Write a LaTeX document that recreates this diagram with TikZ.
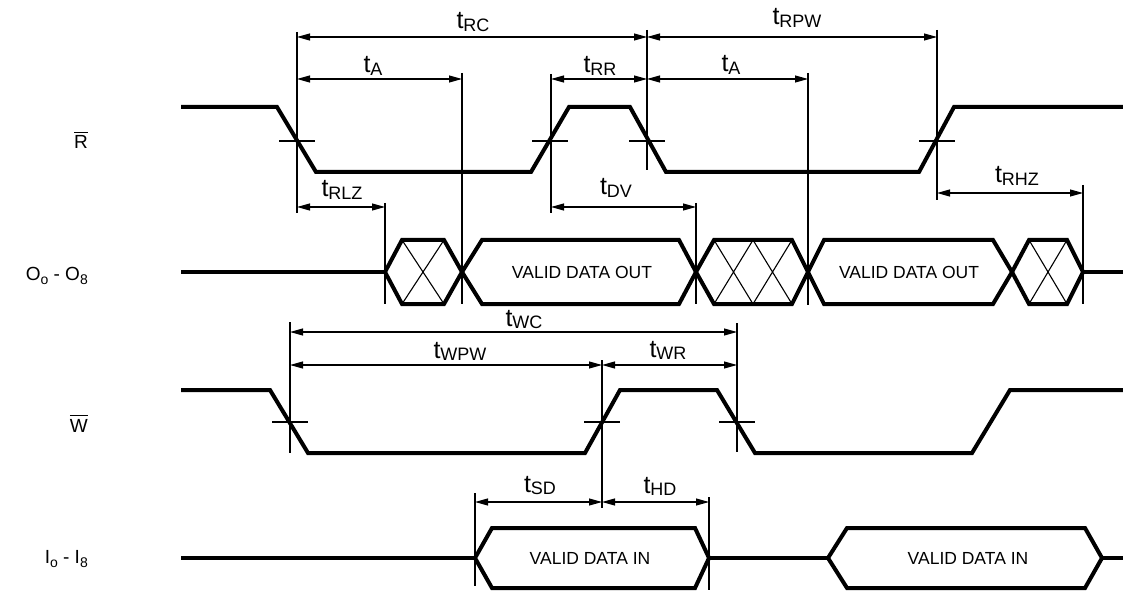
\documentclass[tikz,border=0pt]{standalone}
\usepackage{fontspec}
\setmainfont{Liberation Sans}
\usetikzlibrary{arrows.meta}
\newcommand\tlab[1]{{\fontsize{25}{25}\selectfont t}\raisebox{-2.5pt}{\fontsize{18}{18}\selectfont #1}}
\newcommand\ovr[1]{\vbox{\hrule height 1pt\kern 2.5pt\hbox{#1}}}
\newcommand\sbs[1]{\raisebox{-4pt}{\fontsize{14}{14}\selectfont #1}}
\begin{document}
\begin{tikzpicture}[x=1pt,y=-1pt,
  sig/.style={line width=4pt, line join=miter, line cap=butt},
  thinln/.style={line width=1.1pt},
  dim/.style={line width=1.1pt, {Triangle[length=13pt,width=7pt]}-{Triangle[length=13pt,width=7pt]}},
  lbl/.style={anchor=base, inner sep=0pt},
  dtext/.style={font=\fontsize{17.5}{20}\selectfont, inner sep=0pt},
  rowlbl/.style={anchor=base east, inner sep=0pt, font=\fontsize{19}{22}\selectfont}]
\useasboundingbox (0,0) rectangle (1123,593);

% ---------- row labels ----------
\node[rowlbl] (rR) at (88,149) {\ovr{R}};
\node[rowlbl] (rO) at (88,280) {O\sbs{o} - O\sbs{8}};
\node[rowlbl] (rW) at (88,432) {\ovr{W}};
\node[rowlbl] (rI) at (88,563) {I\sbs{o} - I\sbs{8}};

% ---------- R waveform ----------
\draw[sig] (181,107) -- (277,107) -- (316,172) -- (531,172) -- (569,107) -- (630,107)
  -- (666,172) -- (919,172) -- (954,107) -- (1123,107);

% ---------- O waveform ----------
\draw[sig] (181,272) -- (385,272);
\draw[sig] (385,272) -- (402,240) -- (444,240) -- (462,272) -- (444,304) -- (402,304) -- cycle;
\draw[thinln] (402,240) -- (444,304) (444,240) -- (402,304);
\draw[sig] (462,272) -- (482,240) -- (679,240) -- (696,272) -- (679,304) -- (482,304) -- cycle;
\draw[sig] (696,272) -- (714,240) -- (792,240) -- (808,272) -- (792,304) -- (714,304) -- cycle;
\draw[thinln] (714,240) -- (753,304) (753,240) -- (714,304) (753,240) -- (792,304) (792,240) -- (753,304);
\draw[sig] (808,272) -- (824,240) -- (993,240) -- (1012,272) -- (993,304) -- (824,304) -- cycle;
\draw[sig] (1012,272) -- (1029,240) -- (1067,240) -- (1083,272) -- (1067,304) -- (1029,304) -- cycle;
\draw[thinln] (1029,240) -- (1067,304) (1067,240) -- (1029,304);
\draw[sig] (1083,272) -- (1123,272);
\node[dtext] (vo1) at (582,272) {VALID DATA OUT};
\node[dtext] (vo2) at (909,272) {VALID DATA OUT};

% ---------- W waveform ----------
\draw[sig] (181,390) -- (270,390) -- (308,453) -- (585,453) -- (620,390) -- (717,390)
  -- (755,453) -- (972,453) -- (1010,390) -- (1123,390);

% ---------- I waveform ----------
\draw[sig] (181,558) -- (475,558);
\draw[sig] (475,558) -- (492,528) -- (695,528) -- (709,558) -- (695,588) -- (492,588) -- cycle;
\draw[sig] (709,558) -- (828,558);
\draw[sig] (828,558) -- (847,528) -- (1085,528) -- (1102,558) -- (1085,588) -- (847,588) -- cycle;
\draw[sig] (1102,558) -- (1123,558);
\node[dtext] (vi1) at (590,558) {VALID DATA IN};
\node[dtext] (vi2) at (968,558) {VALID DATA IN};

% ---------- vertical reference lines ----------
\draw[thinln] (297,32) -- (297,213);
\draw[thinln] (462,73) -- (462,304);
\draw[thinln] (551,74) -- (551,213);
\draw[thinln] (647,30) -- (647,170);
\draw[thinln] (808,73) -- (808,305);
\draw[thinln] (937,30) -- (937,200);
\draw[thinln] (1083,185) -- (1083,304);
\draw[thinln] (385,203) -- (385,304);
\draw[thinln] (696,203) -- (696,304);
\draw[thinln] (290,322) -- (290,453);
\draw[thinln] (602,360) -- (602,508);
\draw[thinln] (737,323) -- (737,452);
\draw[thinln] (475,493) -- (475,586);
\draw[thinln] (709,497) -- (709,590);

% ---------- crossing ticks ----------
\foreach \x/\y in {297/141, 550/141, 647/141, 937/141, 290/422, 602/422, 737/422}
  \draw[thinln] (\x-18,\y) -- (\x+18,\y);

% ---------- dimension arrows ----------
\draw[dim] (297,37) -- (647,37);
\draw[dim] (647,37) -- (937,37);
\draw[dim] (297,79) -- (462,79);
\draw[dim] (551,79) -- (647,79);
\draw[dim] (647,79) -- (808,79);
\draw[dim] (297,207) -- (385,207);
\draw[dim] (551,207) -- (696,207);
\draw[dim] (937,193) -- (1083,193);
\draw[dim] (290,332) -- (737,332);
\draw[dim] (290,365) -- (602,365);
\draw[dim] (602,365) -- (737,365);
\draw[dim] (475,502) -- (602,502);
\draw[dim] (602,502) -- (709,502);

% ---------- timing labels ----------
\node[lbl] (tRC)  at (473,29)  {\tlab{RC}};
\node[lbl] (tRPW) at (797,25)  {\tlab{RPW}};
\node[lbl] (tA1)  at (373,73)  {\tlab{A}};
\node[lbl] (tRR)  at (600,73)  {\tlab{RR}};
\node[lbl] (tA2)  at (731,72)  {\tlab{A}};
\node[lbl] (tRLZ) at (342,197) {\tlab{RLZ}};
\node[lbl] (tDV)  at (616,195) {\tlab{DV}};
\node[lbl] (tRHZ) at (1017,183) {\tlab{RHZ}};
\node[lbl] (tWC)  at (524,326) {\tlab{WC}};
\node[lbl] (tWPW) at (460,358) {\tlab{WPW}};
\node[lbl] (tWR)  at (668,357) {\tlab{WR}};
\node[lbl] (tSD)  at (540,492) {\tlab{SD}};
\node[lbl] (tHD)  at (660,493) {\tlab{HD}};
\end{tikzpicture}
\end{document}
